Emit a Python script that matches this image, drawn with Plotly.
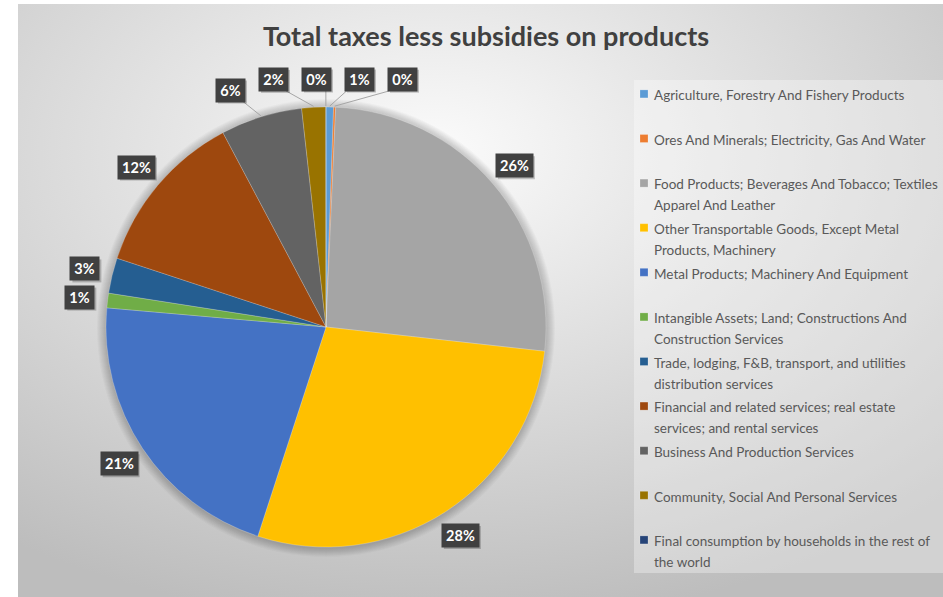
import math
import base64
import plotly.graph_objects as go

# ---------------- data ----------------
categories = [
    "Agriculture, Forestry And Fishery Products",
    "Ores And Minerals; Electricity, Gas And Water",
    "Food Products; Beverages And Tobacco; Textiles<br>Apparel And Leather",
    "Other Transportable Goods, Except Metal<br>Products, Machinery",
    "Metal Products; Machinery And Equipment",
    "Intangible Assets; Land; Constructions And<br>Construction Services",
    "Trade, lodging, F&B, transport, and utilities<br>distribution services",
    "Financial and related services; real estate<br>services; and rental services",
    "Business And Production Services",
    "Community, Social And Personal Services",
    "Final consumption by households in the rest of<br>the world",
]
values = [0.55, 0.15, 26.1, 28.3, 21.4, 1.08, 2.6, 12.2, 6.0, 1.75, 0.02]
colors = ["#5B9BD5", "#ED7D31", "#A5A5A5", "#FFC000", "#4472C4", "#70AD47",
          "#255E91", "#9E480E", "#636363", "#997300", "#264478"]
title = "Total taxes less subsidies on products"

# ---------------- geometry (pixels) ----------------
W, H = 943, 597
cx, cy, R = 326, 327, 220


def px(x):
    return x / W


def py(y):
    return 1 - y / H


# legend entries padded to equal height, displayed at 13.5px inside a 16px-line legend
legend_labels = []
for c in categories:
    lines = c.split("<br>")
    if len(lines) == 1:
        lines.append(" ")
    legend_labels.append("<br>".join(f"<span style='font-size:13.5px'>{t}</span>" for t in lines))

fig = go.Figure(go.Pie(
    labels=legend_labels, values=values, sort=False,
    direction="clockwise", rotation=0,
    marker=dict(colors=colors, line=dict(color="rgba(255,255,255,0.35)", width=0.6)),
    textinfo="none", hoverinfo="percent",
    domain=dict(x=[px(cx - R), px(cx + R)], y=[py(cy + R), py(cy - R)]),
))

# ---------------- background gradient ----------------
svg = ('<svg xmlns="http://www.w3.org/2000/svg" width="925" height="593" '
       'preserveAspectRatio="none"><defs><radialGradient id="g" cx="45%" cy="25%" r="80%">'
       '<stop offset="0" stop-color="#fbfbfb"/><stop offset="1" stop-color="#bdbdbd"/>'
       '</radialGradient></defs><rect width="100%" height="100%" fill="url(#g)"/></svg>')
src = "data:image/svg+xml;base64," + base64.b64encode(svg.encode()).decode()
images = [dict(source=src, xref="paper", yref="paper", x=px(18), y=py(4),
               sizex=(W - 18) / W, sizey=(H - 4) / H, xanchor="left", yanchor="top",
               sizing="stretch", layer="below")]

shapes = []
# soft shadow around pie
for k in range(9, 0, -1):
    r = R + k
    shapes.append(dict(type="circle", xref="paper", yref="paper",
                       x0=px(cx - r), x1=px(cx + r), y0=py(cy + r + 1), y1=py(cy - r + 1),
                       fillcolor="rgba(0,0,0,0.022)", line=dict(width=0), layer="below"))
# legend panel
shapes.append(dict(type="rect", xref="paper", yref="paper", x0=px(634), x1=1,
                   y0=py(573), y1=py(80), fillcolor="rgba(255,255,255,0.32)",
                   line=dict(width=0), layer="below"))

# ---------------- data labels ----------------
total = sum(values)
labs = []
cum = 0.0
RL = 248
for v in values:
    a0 = cum / total * 360
    cum += v
    a1 = cum / total * 360
    mid = math.radians((a0 + a1) / 2)
    pct = v / total * 100
    txt = f"{pct:.0f}%"
    w = 13 + 8 * len(txt)
    nx = cx + RL * math.sin(mid)
    ny = cy - RL * math.cos(mid)
    labs.append(dict(x=nx, y=ny, nx=nx, ny=ny, w=w, h=23, txt=txt, mid=mid))

# simple horizontal de-overlap
for _ in range(500):
    for i in range(len(labs)):
        for j in range(i + 1, len(labs)):
            a, b = labs[i], labs[j]
            ox = (a["w"] + b["w"]) / 2 + 14 - abs(a["x"] - b["x"])
            oy = (a["h"] + b["h"]) / 2 + 4 - abs(a["y"] - b["y"])
            if ox > 0 and oy > 0:
                s = 1 if b["x"] >= a["x"] else -1
                a["x"] -= s * ox * 0.2
                b["x"] += s * ox * 0.3

annotations = []
for L in labs:
    x0, x1 = L["x"] - L["w"] / 2, L["x"] + L["w"] / 2
    y0, y1 = L["y"] - L["h"] / 2, L["y"] + L["h"] / 2
    disp = math.hypot(L["x"] - L["nx"], L["y"] - L["ny"])
    if disp > 4:
        ex = cx + (R + 1) * math.sin(L["mid"])
        ey = cy - (R + 1) * math.cos(L["mid"])
        tx = min(max(ex, x0 + 2), x1 - 2)
        ty = min(max(ey, y0), y1)
        shapes.append(dict(type="line", xref="paper", yref="paper",
                           x0=px(ex), y0=py(ey), x1=px(tx), y1=py(ty),
                           line=dict(color="#a6a6a6", width=1), layer="above"))
    # drop shadow of the label box
    shapes.append(dict(type="rect", xref="paper", yref="paper",
                       x0=px(x0 + 2), x1=px(x1 + 2), y0=py(y1 + 2), y1=py(y0 + 2),
                       fillcolor="rgba(0,0,0,0.22)", line=dict(width=0), layer="above"))
    annotations.append(dict(x=px(L["x"]), y=py(L["y"]), xref="paper", yref="paper",
                            text=f"<b>{L['txt']}</b>", showarrow=False,
                            width=L["w"] - 6, height=L["h"] - 6,
                            bgcolor="#404040", borderpad=3, align="center",
                            xanchor="center", yanchor="middle",
                            font=dict(family="Lato", size=14.5, color="#ffffff")))

fig.update_layout(
    width=W, height=H, autosize=False,
    margin=dict(l=0, r=0, t=0, b=0),
    paper_bgcolor="#ffffff",
    title=dict(text=title, x=px(486), y=py(37), xanchor="center", yanchor="middle",
               xref="paper", yref="paper",
               font=dict(family="Lato", size=27, color="#404040", weight="bold")),
    showlegend=True,
    legend=dict(x=px(614), y=py(77), xanchor="left", yanchor="top",
                bgcolor="rgba(0,0,0,0)", valign="top",
                font=dict(family="Lato", size=16, color="#595959")),
    images=images, shapes=shapes, annotations=annotations,
)

post = ("document.body.style.margin='0px';"
        "document.querySelectorAll('.legendpie').forEach(function(p){"
        "p.setAttribute('d','M4,4H-4V-4H4Z');p.setAttribute('transform','translate(30,0)');});")
fig.write_html("out.html", post_script=post, config={"displayModeBar": False})
